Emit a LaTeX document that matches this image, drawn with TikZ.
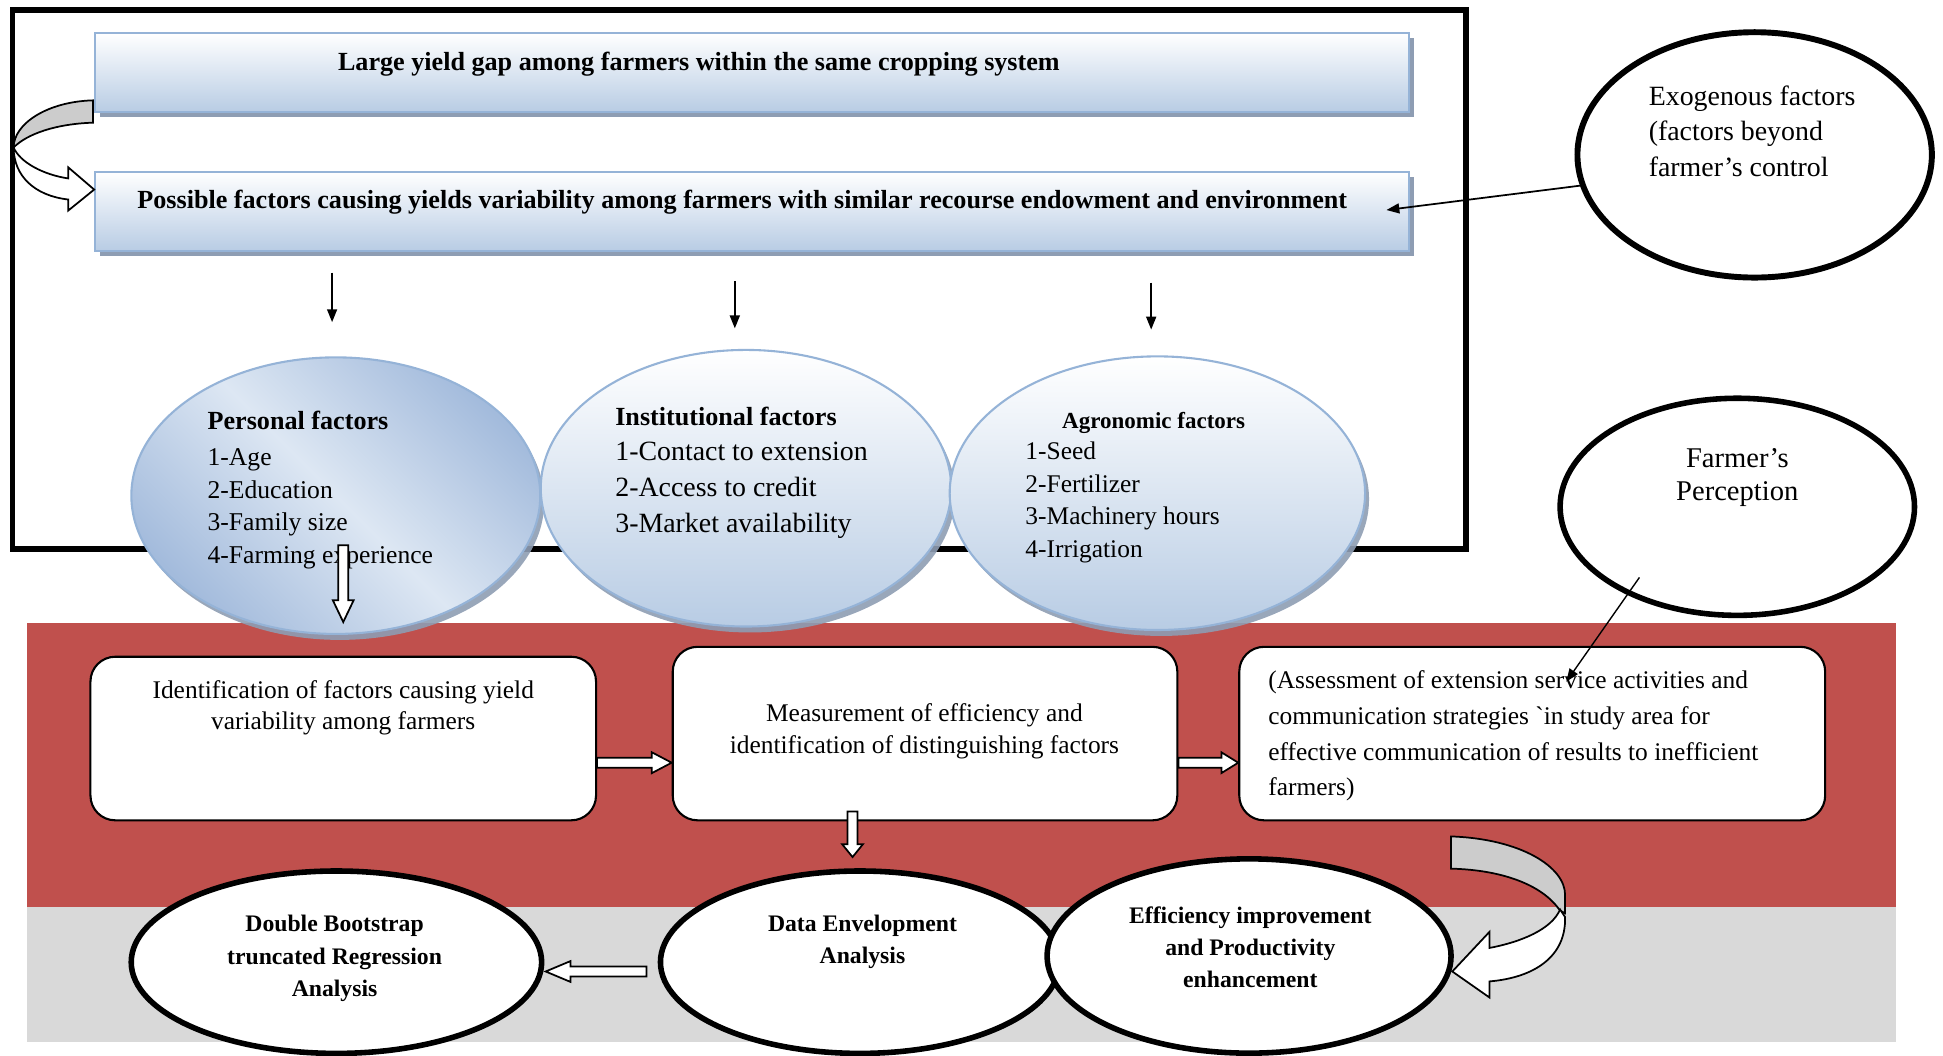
\documentclass[tikz,border=0pt]{standalone}
\usepackage{fontspec}
\setmainfont{Liberation Serif}
\usetikzlibrary{shapes.geometric,arrows.meta,calc,shadows}

\definecolor{boxblue}{HTML}{B8CCE4}
\definecolor{boxedge}{HTML}{95B3D7}
\definecolor{boxshade}{HTML}{8E9DB3}
\definecolor{persblue}{HTML}{A3BBDC}
\definecolor{paleblue}{HTML}{DDE7F3}
\definecolor{bandred}{HTML}{C0504D}
\definecolor{bandgray}{HTML}{D9D9D9}
\definecolor{curlgray}{HTML}{CCCCCC}

\tikzset{
  titlebox/.style={draw=boxedge, line width=0.6pt, top color=white, bottom color=boxblue,
    minimum width=132.5mm, minimum height=8mm, inner sep=0pt,
    drop shadow={shadow xshift=0.5mm, shadow yshift=-0.5mm, fill=boxshade, opacity=1}},
  factor/.style={ellipse, draw=boxedge, line width=0.6pt, inner sep=0pt,
    drop shadow={shadow xshift=0.4mm, shadow yshift=-0.6mm, fill=boxshade, opacity=0.9}},
  stage/.style={draw, rounded corners=2.5mm, fill=white, line width=0.6pt, inner sep=0pt},
  oval/.style={ellipse, draw, fill=white, line width=1.6pt, inner sep=0pt},
  hollow/.style={draw, fill=white, line width=0.5pt},
  pointer/.style={line width=0.5pt, -{Triangle[length=1.3mm, width=1mm]}},
  curl/.style={draw, line width=0.5pt},
  headline/.style={inner sep=0pt, font=\bfseries\fontsize{7.5}{9}\selectfont},
  body/.style={inner sep=0pt, font=\fontsize{7.3}{9.3}\selectfont},
  heavy/.style={inner sep=0pt, align=center, font=\bfseries\fontsize{6.8}{9.25}\selectfont},
}

% block arrow with white body: from, to, head length
\newcommand{\hollowarrow}[3]{%
  \path ($(#2)!#3!(#1)$) coordinate (hb);
  \draw[hollow] ($(#1)!0.5mm!90:(#2)$) -- ($(hb)!0.5mm!90:(#2)$) -- ($(hb)!1.05mm!90:(#2)$)
    -- (#2) -- ($(hb)!1.05mm!-90:(#2)$) -- ($(hb)!0.5mm!-90:(#2)$) -- ($(#1)!0.5mm!-90:(#2)$) -- cycle;
}

\begin{document}
\begin{tikzpicture}[x=0.125mm, y=-0.125mm]
\useasboundingbox (0,0) rectangle (1568,852);

% background bands
\fill[bandred] (22,503) rectangle (1530,732);
\fill[bandgray] (22,732) rectangle (1530,841);
\draw[line width=1.6pt] (10,8) rectangle (1183,443);

% problem boxes
\node[titlebox] (gap) at (607,58.5) {};
\node[titlebox] (causes) at (607,170.5) {};
\node[headline] (gap-t) at (564,51.5) {Large yield gap among farmers within the same cropping system};
\node[headline] (causes-t) at (599,163) {Possible factors causing yields variability among farmers with similar recourse endowment and environment};

% curled arrow gap -> causes
\draw[curl, fill=curlgray] (75,81) .. controls (38,82) and (11,100) .. (11,119)
  .. controls (22,108) and (45,100) .. (75,99) -- cycle;
\draw[curl, fill=white] (11,119) .. controls (16,131) and (35,141) .. (55,144) -- (55,135) -- (76,153)
  -- (55,170) -- (55,161) .. controls (28,158) and (11,142) .. (11,119) -- cycle;

% exogenous factors
\node[oval, line width=1.7pt, minimum width=35.75mm, minimum height=24.75mm] (exo) at (1416,125) {};
\node[body, font=\fontsize{8}{10.2}\selectfont, anchor=west, align=left] (exo-t) at (1330,105.7)
  {Exogenous factors\\(factors beyond\\farmer’s control};
\coordinate (exo-in) at ($(causes.east)+(-19,-1)$);
\draw[pointer] (exo.190) -- (exo-in);

% three groups of factors
\coordinate (d1) at (268,220); \coordinate (e1) at (268,260);
\coordinate (d2) at (593,227); \coordinate (e2) at (593,265);
\coordinate (d3) at (929,228); \coordinate (e3) at (929,266);
\draw[pointer] (d1) -- (e1);
\draw[pointer] (d2) -- (e2);
\draw[pointer] (d3) -- (e3);

\node[factor, minimum width=41.25mm, minimum height=27.9mm, left color=persblue, right color=persblue,
  middle color=paleblue, shading angle=-45] (pers) at (271,400) {};
\node[factor, minimum width=41.4mm, minimum height=27.9mm, top color=white, bottom color=boxblue] (inst) at (602,394) {};
\node[factor, minimum width=41.9mm, minimum height=27.6mm, top color=white, bottom color=boxblue] (agro) at (934,398) {};

\node[body, font=\fontsize{7.35}{9.35}\selectfont, anchor=west, align=left] (pers-t) at (167,395.5)
  {{\bfseries\fontsize{7.5}{9.35}\selectfont Personal factors}\\[0.9pt]1-Age\\2-Education\\3-Family size\\4-Farming experience};
\node[body, font=\fontsize{8}{10.3}\selectfont, anchor=west, align=left] (inst-t) at (496,381.5)
  {{\bfseries\fontsize{7.5}{10.3}\selectfont Institutional factors}\\1-Contact to extension\\2-Access to credit\\3-Market availability};
\node[headline, font=\bfseries\fontsize{6.6}{9}\selectfont] (agro-h) at (931,341) {Agronomic factors};
\node[body, font=\fontsize{7.3}{9.35}\selectfont, anchor=west, align=left] (agro-t) at (827,405.5)
  {1-Seed\\2-Fertilizer\\3-Machinery hours\\4-Irrigation};

\coordinate (pers-a) at (277,440);
\coordinate (pers-b) at (277,502);
\hollowarrow{pers-a}{pers-b}{2.2mm}

% analysis stages
\node[stage, minimum width=51mm, minimum height=16.5mm] (ident) at (277,596) {};
\node[stage, minimum width=50.9mm, minimum height=17.5mm] (measure) at (746.5,592) {};
\node[stage, minimum width=59.1mm, minimum height=17.5mm] (assess) at (1236.5,592) {};
\node[body, font=\fontsize{7.3}{8.9}\selectfont, align=center] (ident-t) at (277,571.5)
  {Identification of factors causing yield\\variability among farmers};
\node[body, font=\fontsize{7.3}{9.25}\selectfont, align=center] (measure-t) at (746,590)
  {Measurement of efficiency and\\identification of distinguishing factors};
\node[body, font=\fontsize{7.3}{10.2}\selectfont, anchor=west, align=left] (assess-t) at (1023,594)
  {(Assessment of extension service activities and\\communication strategies \textasciigrave in study area for\\effective communication of results to inefficient\\farmers)};

% farmer's perception
\node[oval, minimum width=35.75mm, minimum height=21.9mm] (farmer) at (1402,409) {};
\node[body, font=\fontsize{8.2}{9.6}\selectfont, align=center] (farmer-t) at (1402,385.5) {Farmer’s\\Perception};
\coordinate (farmer-a) at ($(farmer)+(-79,57)$);
\coordinate (farmer-b) at ($(assess.north)+(27.5,29)$);
\draw[pointer, line width=0.4pt] (farmer-a) -- (farmer-b);

% methods
\node[oval, minimum width=41.4mm, minimum height=18.4mm] (boot) at (271.5,776.5) {};
\node[oval, minimum width=40.25mm, minimum height=18.4mm] (dea) at (694,776.5) {};
\node[oval, minimum width=40.75mm, minimum height=19.6mm] (gain) at (1008,771.5) {};
\node[heavy] (boot-t) at (270,773.5) {Double Bootstrap\\truncated Regression\\Analysis};
\node[heavy] (dea-t) at (696,760) {Data Envelopment\\Analysis};
\node[heavy] (gain-t) at (1009,764.5) {Efficiency improvement\\and Productivity\\enhancement};

% block arrows
\coordinate (ab1) at ($(ident.east)+(0,19.5)$);
\coordinate (ab2) at ($(measure.west)+(0,23.5)$);
\hollowarrow{ab1}{ab2}{2mm}
\coordinate (bc1) at ($(measure.east)+(0,23.5)$);
\coordinate (bc2) at ($(assess.west)+(0,23.5)$);
\hollowarrow{bc1}{bc2}{1.7mm}
\coordinate (bd1) at ($(measure.south)+(-58.5,-8)$);
\coordinate (bd2) at ($(dea.north)+(-6,-9)$);
\hollowarrow{bd1}{bd2}{1.3mm}
\coordinate (dl1) at ($(dea.west)+(-9,7.5)$);
\coordinate (dl2) at ($(boot.east)+(1,7.5)$);
\hollowarrow{dl1}{dl2}{2.5mm}

% curled arrow assess -> gain
\draw[curl, fill=curlgray] (1171,675) .. controls (1228,677) and (1263,700) .. (1263,722) -- (1263,737)
  -- (1259,735) .. controls (1245,714) and (1212,702) .. (1171,701) -- cycle;
\draw[curl, fill=white] (1259,734) -- (1263,740) .. controls (1264,772) and (1238,789) .. (1202,792)
  -- (1202,805) -- (1172,784) -- (1202,752) -- (1202,765) .. controls (1228,760) and (1252,750) .. (1259,734) -- cycle;
\end{tikzpicture}
\end{document}
